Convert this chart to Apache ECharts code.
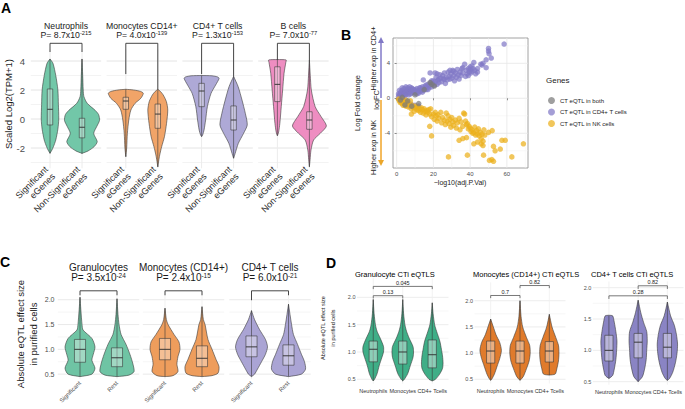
<!DOCTYPE html>
<html><head><meta charset="utf-8">
<script src="https://cdn.jsdelivr.net/npm/echarts@6/dist/echarts.min.js"></script>
<style>html,body{margin:0;padding:0;background:#fff}#c{width:685px;height:409px}</style>
</head><body><div id="c"></div>
<script>
// ---------------- DATA ----------------
// Panel A
const aFacetTitles = ['Neutrophils', 'Monocytes CD14+', 'CD4+ T cells', 'B cells'];
const aPMantissa = ['8.7', '4.0', '1.3', '7.0'];
const aPExponent = ['-215', '-139', '-153', '-77'];
const aCategories = ['Significant\neGenes', 'Non-Significant\neGenes'];
const aYTicks = [-2, 0, 2, 4];
const aGridMajor = [-2, 0, 2, 4];
const aGridMinor = [-3, -1, 1, 3];
// violin outlines: [value, relative half width]
const aViolins = [
  [[[4.14,0],[3.84,0.17],[3.0,0.33],[2.0,0.45],[1.0,0.48],[0.0,0.5],[-0.7,0.45],[-1.45,0.33],[-1.9,0.2],[-2.14,0.11],[-2.37,0]],
   [[4.14,0],[3.0,0.04],[2.0,0.07],[1.54,0.11],[1.08,0.3],[0.6,0.75],[0.3,0.95],[-0.1,1.0],[-0.5,0.85],[-1.0,0.67],[-1.56,0.87],[-1.9,0.7],[-2.2,0.35],[-2.37,0]]],
  [[[2.05,0],[2.0,0.45],[1.9,0.85],[1.77,1.0],[1.43,0.86],[1.08,0.53],[0.62,0.29],[-0.07,0.17],[-0.99,0.09],[-2.0,0.05],[-2.6,0]],
   [[2.05,0],[1.9,0.15],[1.66,0.31],[1.2,0.49],[0.62,0.57],[-0.3,0.5],[-1.22,0.38],[-1.91,0.22],[-2.48,0.11],[-2.9,0.05],[-3.3,0]]],
  [[[3.0,0],[2.98,0.6],[2.9,0.92],[2.8,1.0],[2.34,0.8],[1.77,0.54],[0.85,0.33],[-0.07,0.23],[-0.76,0.14],[-1.1,0.06],[-1.22,0]],
   [[2.94,0],[2.23,0.26],[1.31,0.48],[0.39,0.67],[-0.41,0.78],[-0.99,0.57],[-1.68,0.27],[-2.37,0.09],[-2.71,0]]],
  [[[4.1,0],[4.07,0.5],[3.9,0.48],[3.15,0.38],[2.0,0.3],[0.85,0.22],[-0.3,0.14],[-0.9,0.07],[-1.17,0]],
   [[4.07,0],[3.0,0.05],[2.0,0.11],[0.85,0.33],[0.16,0.67],[-0.48,0.97],[-0.99,0.62],[-1.45,0.24],[-2.14,0.09],[-2.8,0.04],[-3.29,0]]]
];
// boxes: [low, q1, median, q3, high]
const aBoxes = [
  [[-2.37,-0.41,0.67,2.07,4.14], [-2.4,-1.3,-0.57,0.05,4.14]],
  [[-2.6,0.67,1.24,1.5,2.05], [-3.3,-0.64,0.34,1.03,2.05]],
  [[-1.2,0.85,1.93,2.46,3.0], [-2.7,-0.76,-0.07,0.9,2.94]],
  [[-1.1,1.2,2.39,3.6,4.07], [-3.3,-0.71,-0.07,0.5,4.07]]
];
// brackets: [from, to, bar value, left tip end, right tip end]
const aBrackets = [[0,1,5.22,4.62,4.62],[0,1,5.22,3.1,2.05],[0,1,5.22,3.1,2.94],[0,1,5.22,4.07,4.07]];

// Panel B
const bXTicks = [0, 20, 40, 60];
const bYTicks = [-4, 0, 4];
const bXMajor = [0, 20, 40, 60], bXMinor = [10, 30, 50, 70];
const bYMajor = [-4, 0, 4], bYMinor = [-6, -2, 2, 6];
const bSeriesNames = ['CT eQTL in both', 'CT eQTL in CD4+ T cells', 'CT eQTL in NK cells'];
const cd4Points = [[1,0.2],[1.5,0.4],[2,0.6],[2,0.3],[2.5,0.8],[3,0.5],[3,0.9],[3.5,0.3],[4,0.7],[4,1.1],[4.5,0.5],[5,0.8],[5,0.4],[5.5,1.0],[6,0.6],[6,0.9],[6.5,0.4],[7,1.0],[7,0.7],[7.5,0.5],[8,0.9],[8,0.6],[8.5,1.1],[9,0.7],[9.5,0.9],[10,0.6],[10,1.0],[10.5,0.8],[11,1.1],[11.5,0.7],[12,0.9],[12.5,1.2],[13,0.8],[13.5,1.0],[14,1.3],[14.5,0.9],[15,1.1],[15.5,1.4],[16,1.0],[16.5,1.3],[17,1.6],[17.5,1.2],[18,1.5],[18.5,1.8],[19,1.3],[19.5,1.7],[20,2.0],[20.5,1.5],[21,1.9],[21.5,2.4],[22,1.6],[22.5,2.1],[23,1.8],[23.5,2.7],[24,2.3],[24.5,1.9],[25,2.6],[25.5,2.2],[26,2.9],[26.5,1.7],[27,2.4],[27.5,2.1],[28,3.0],[28.5,2.5],[29,2.2],[29.5,2.8],[30,2.3],[30.5,3.2],[31,2.6],[31.5,2.0],[32,2.9],[32.5,2.4],[33,3.3],[33.5,2.7],[34,2.2],[34.5,3.0],[35,2.6],[35.5,3.4],[36,2.9],[37,3.9],[37.5,2.5],[38,3.2],[38.5,2.8],[39,3.4],[39.5,3.0],[40,3.3],[40.5,2.9],[41,3.1],[41.5,3.4],[42,4.1],[42.5,3.2],[43,2.8],[44,3.0],[45.8,3.9],[46.4,3.8],[47,4.0],[48.7,3.5],[48.7,4.4],[50,5.7],[50,5.4],[50.3,5.1],[51.5,4.6],[58.5,6.2],[1,0.5],[1.5,0.9],[2.5,0.2],[3,1.2],[4,0.2],[5,1.3],[6,1.2],[7,1.3],[8,1.2],[9,1.0],[11,0.5],[12,0.6],[13,1.2],[14,0.7],[16,1.5],[17,1.0],[19,2.0],[22,2.8],[23,2.2],[26,2.2],[29,3.2],[31,3.1],[36,3.5],[39,2.6],[40,3.6],[41,3.7],[44,3.4],[18.2,2.9],[20.9,2.9],[14.5,2.1],[3,-0.3],[4,-0.5],[5,-0.8],[6,-0.6],[7,-0.9],[8,-0.7],[9,-1.0],[10,-0.8],[11,-1.1],[12,-0.9]];
const nkPoints = [[1,-0.1],[1.5,-0.3],[2,-0.2],[2,-0.5],[2.5,-0.4],[3,-0.6],[3,-0.1],[3.5,-0.8],[4,-0.3],[4.5,-0.6],[5,-0.9],[5,-0.2],[5.5,-0.5],[6,-0.4],[6.5,-1.0],[7,-0.7],[7.5,-0.3],[8,-1.2],[8.5,-0.8],[9,-1.0],[9.5,-1.5],[10,-1.1],[10.5,-0.9],[11,-1.3],[11.5,-1.0],[12,-1.4],[12.5,-1.2],[13,-1.6],[13.5,-1.1],[14,-1.3],[14.5,-1.7],[15,-1.2],[15.5,-1.5],[16,-1.9],[16.5,-1.4],[17,-1.6],[17.5,-1.3],[18,-1.8],[18.5,-1.2],[8,-1.8],[19,-2.1],[20,-1.8],[20.5,-2.4],[21,-1.6],[21.5,-2.0],[22,-2.6],[22.5,-1.9],[23,-2.3],[24,-1.6],[24.5,-2.8],[25,-2.2],[26,-2.5],[26.5,-3.0],[27,-1.7],[27.5,-2.6],[28,-2.0],[28.5,-2.9],[29,-2.4],[29.5,-3.3],[30,-2.2],[30.5,-2.7],[31,-3.1],[32,-2.5],[32.5,-3.4],[33,-2.8],[34,-2.3],[34.5,-3.6],[35,-2.7],[36,-3.2],[36.5,-1.7],[37,-1.8],[37.5,-2.6],[38,-3.0],[38.5,-2.9],[39,-3.5],[39.5,-3.2],[40,-3.4],[40.5,-3.8],[41,-3.6],[41.5,-4.0],[42,-3.9],[42.5,-3.3],[43,-4.2],[43.5,-3.7],[44,-4.1],[44.5,-3.5],[45,-4.3],[45.5,-3.9],[46,-4.6],[46.5,-4.1],[47,-4.9],[47.5,-3.6],[48,-4.2],[50,-3.9],[52,-3.7],[36,-4.6],[34,-4.8],[38,-4.5],[46,-5.2],[44,-5.0],[47,-5.4],[42,-5.2],[18,-3.2],[19,-4.3],[28.2,-6.7],[38.5,-6.5],[47.3,-6.5],[52.7,-5.5],[51.8,-7.0],[52.7,-7.2],[50.5,-7.1],[56.4,-5.8],[57.3,-4.8],[59.1,-4.8],[62.7,-6.7],[69,-5.2],[53.6,-6.0]];
const bothPoints = [[18.2,1.8],[19.1,1.6],[20.5,1.4],[4.5,-0.76],[8.2,-0.9],[6,-0.3],[3,0.1],[10,0.4],[12,-0.6],[15,1.0],[2,-0.2]];

// Panel C
const cFacetTitles = ['Granulocytes', 'Monocytes (CD14+)', 'CD4+ T cells'];
const cPMantissa = ['3.5', '2.4', '6.0'];
const cPExponent = ['-24', '-15', '-21'];
const cCategories = ['Significant', 'Rest'];
const cYTicks = [0.5, 1.0, 1.5, 2.0];
const cGridMajor = [0.5, 1.0, 1.5, 2.0];
const cGridMinor = [0.75, 1.25, 1.75];
const cViolins = [
  [[[2.05,0],[1.8,0.05],[1.5,0.12],[1.39,0.18],[1.22,0.7],[1.05,0.88],[0.9,0.78],[0.78,0.7],[0.62,0.88],[0.5,0.7],[0.45,0]],
   [[2.02,0],[1.7,0.06],[1.5,0.12],[1.3,0.24],[1.1,0.53],[0.9,0.76],[0.7,0.94],[0.55,1.0],[0.48,0.7],[0.45,0]]],
  [[[1.83,0],[1.6,0.08],[1.5,0.18],[1.3,0.53],[1.15,0.82],[1.0,0.88],[0.85,0.76],[0.7,0.7],[0.55,0.76],[0.47,0.47],[0.45,0]],
   [[1.86,0],[1.6,0.08],[1.5,0.18],[1.2,0.35],[1.0,0.59],[0.8,0.82],[0.65,1.0],[0.52,0.94],[0.47,0.59],[0.45,0]]],
  [[[1.78,0],[1.6,0.18],[1.4,0.47],[1.2,0.82],[1.05,0.94],[0.9,0.82],[0.75,0.59],[0.6,0.35],[0.5,0.18],[0.45,0]],
   [[1.91,0],[1.5,0.18],[1.3,0.29],[1.1,0.53],[0.9,0.76],[0.75,0.94],[0.6,1.0],[0.5,0.76],[0.45,0]]]
];
const cBoxes = [
  [[0.45,0.74,1.0,1.2,2.05], [0.45,0.65,0.83,1.03,2.02]],
  [[0.45,0.79,1.0,1.22,1.83], [0.45,0.65,0.82,1.07,1.86]],
  [[0.45,0.85,1.05,1.27,1.78], [0.45,0.68,0.87,1.09,1.91]]
];
const cBrackets = [[0,1,2.18,2.09,2.09],[0,1,2.18,2.09,2.09],[0,1,2.18,1.99,2.09]];

// Panel D
const dTitles = ['Granulocyte CTi eQTLS', 'Monocytes (CD14+) CTi eQTLS', 'CD4+ T cells CTi eQTLS'];
const dCategories = ['Neutrophils', 'Monocytes', 'CD4+ Tcells'];
const dYTicks = [0.5, 1.0, 1.5, 2.0];
const dGridMajor = [0.5, 1.0, 1.5, 2.0];
const dGridMinor = [0.75, 1.25, 1.75];
const dViolins = [
  [[[1.96,0],[1.7,0.08],[1.5,0.2],[1.38,0.35],[1.25,0.65],[1.1,0.95],[1.0,0.95],[0.9,0.8],[0.75,0.55],[0.6,0.35],[0.5,0.12],[0.47,0]],
   [[1.96,0],[1.7,0.08],[1.5,0.2],[1.38,0.35],[1.25,0.6],[1.1,0.95],[1.0,1.0],[0.9,0.95],[0.75,0.7],[0.6,0.45],[0.5,0.15],[0.47,0]],
   [[1.9,0],[1.7,0.08],[1.5,0.22],[1.38,0.4],[1.2,0.7],[1.05,0.85],[0.93,0.95],[0.8,1.0],[0.7,0.95],[0.6,0.7],[0.5,0.3],[0.47,0]]],
  [[[1.65,0],[1.5,0.25],[1.35,0.5],[1.2,0.85],[1.05,1.0],[0.9,0.85],[0.75,0.6],[0.6,0.35],[0.5,0.1],[0.48,0]],
   [[2.0,0],[1.7,0.1],[1.5,0.25],[1.3,0.6],[1.15,0.9],[1.0,0.95],[0.85,0.85],[0.7,0.6],[0.55,0.3],[0.48,0]],
   [[1.74,0],[1.5,0.25],[1.3,0.6],[1.15,0.85],[1.0,0.9],[0.85,0.85],[0.7,0.7],[0.6,0.55],[0.58,0]]],
  [[[1.56,0],[1.55,0.35],[1.45,0.5],[1.3,0.65],[1.15,0.75],[1.0,0.72],[0.85,0.65],[0.7,0.5],[0.6,0.35],[0.55,0]],
   [[1.8,0],[1.6,0.25],[1.45,0.5],[1.3,0.8],[1.15,0.85],[1.0,0.8],[0.85,0.75],[0.7,0.6],[0.58,0.4],[0.5,0]],
   [[1.77,0],[1.55,0.3],[1.4,0.65],[1.25,0.85],[1.1,0.95],[0.95,0.9],[0.8,0.75],[0.65,0.5],[0.55,0.2],[0.52,0]]]
];
const dBoxes = [
  [[0.47,0.82,1.05,1.2,1.96], [0.47,0.78,1.0,1.2,1.96], [0.47,0.71,0.95,1.22,1.9]],
  [[0.48,0.81,1.04,1.23,1.65], [0.48,0.81,1.04,1.23,2.0], [0.58,0.83,1.04,1.22,1.74]],
  [[0.55,0.83,1.0,1.24,1.55], [0.5,0.88,1.13,1.27,1.8], [0.52,0.88,1.05,1.27,1.77]]
];
const dBrackets = [
  [[0,2,2.2,2.15,2.15,'0.045'], [0,1,2.03,1.98,1.98,'0.13']],
  [[0,1,2.1,2.05,2.05,'0.7'], [1,2,2.29,2.24,2.24,'0.82']],
  [[1,2,2.03,1.98,1.98,'0.82'], [0,2,1.87,1.82,1.82,'0.28']]
];

// ---------------- STYLE / LAYOUT ----------------
const FONT = "'Liberation Sans', Arial, Helvetica, sans-serif";
const aColors = ['#72c7a8', '#f1a468', '#aea9d6', '#ee8dc1'];
const cColors = ['#6fc4a4', '#ee9d5c', '#aaa4d4'];
const dColors = ['#3fae87', '#e07b2c', '#8a84c4'];
const OUT = '#3a3a3a';

const grids = [], xAxes = [], yAxes = [], series = [], graphics = [];

function addGrid(grid, xAxis, yAxis) {
  const gi = grids.length;
  grids.push(Object.assign({containLabel: false}, grid));
  xAxes.push(Object.assign({gridIndex: gi}, xAxis));
  yAxes.push(Object.assign({gridIndex: gi}, yAxis));
  return gi;
}
function hLines(gi, vals, color, w, ext) {
  return {type: 'custom', xAxisIndex: gi, yAxisIndex: gi, z: 0, silent: true, clip: false,
    data: vals.map(v => [0, v]), encode: {x: 0, y: 1},
    renderItem(params, api) {
      const cs = params.coordSys;
      const y = api.coord([api.value(0), api.value(1)])[1];
      return {type: 'line', shape: {x1: cs.x - ext, y1: y, x2: cs.x + cs.width + ext, y2: y}, style: {stroke: color, lineWidth: w}};
    }};
}
function vLines(gi, vals, yv, color, w) {
  return {type: 'custom', xAxisIndex: gi, yAxisIndex: gi, z: 0, silent: true, clip: false,
    data: vals.map(v => [v, yv]), encode: {x: 0, y: 1},
    renderItem(params, api) {
      const cs = params.coordSys;
      const x = api.coord([api.value(0), api.value(1)])[0];
      return {type: 'line', shape: {x1: x, y1: cs.y, x2: x, y2: cs.y + cs.height}, style: {stroke: color, lineWidth: w}};
    }};
}
function violinSeries(gi, shapes, boxes, color, kW, kB, boxFill) {
  return {type: 'custom', xAxisIndex: gi, yAxisIndex: gi, z: 3, silent: true, clip: false,
    data: boxes.map((b, i) => [i, b[2]]), encode: {x: 0, y: 1},
    renderItem(params, api) {
      const i = params.dataIndex, shp = shapes[i], b = boxes[i];
      const cx = api.coord([i, b[2]])[0];
      const band = api.size([1, 0])[0];
      const hw = kW * band, bw = kB * band;
      const Y = v => api.coord([i, v])[1];
      const right = shp.map(p => [cx + p[1] * hw, Y(p[0])]);
      const left = shp.slice().reverse().map(p => [cx - p[1] * hw, Y(p[0])]);
      return {type: 'group', children: [
        {type: 'polygon', shape: {points: right.concat(left), smooth: 0.25}, style: {fill: color, stroke: OUT, lineWidth: 0.6}},
        {type: 'line', shape: {x1: cx, y1: Y(b[0]), x2: cx, y2: Y(b[4])}, style: {stroke: OUT, lineWidth: 0.6}},
        {type: 'rect', shape: {x: cx - bw, y: Y(b[3]), width: 2 * bw, height: Y(b[1]) - Y(b[3])}, style: {fill: boxFill, stroke: OUT, lineWidth: 0.6}},
        {type: 'line', shape: {x1: cx - bw, y1: Y(b[2]), x2: cx + bw, y2: Y(b[2])}, style: {stroke: '#2a2a2a', lineWidth: 0.9}}
      ]};
    }};
}
function bracketSeries(gi, items, color, lw, fs) {
  return {type: 'custom', xAxisIndex: gi, yAxisIndex: gi, z: 4, silent: true, clip: false,
    data: items.map(b => [b[0], b[2]]), encode: {x: 0, y: 1},
    renderItem(params, api) {
      const b = items[params.dataIndex];
      const p1 = api.coord([b[0], b[2]]), p2 = api.coord([b[1], b[2]]);
      const yl = api.coord([b[0], b[3]])[1], yr = api.coord([b[1], b[4]])[1];
      const ch = [{type: 'polyline', shape: {points: [[p1[0], yl], [p1[0], p1[1]], [p2[0], p2[1]], [p2[0], yr]]}, style: {stroke: color, lineWidth: lw, fill: null}}];
      if (b[5]) ch.push({type: 'text', x: (p1[0] + p2[0]) / 2, y: p1[1] - 0.5, style: {text: b[5], fontSize: fs, fontFamily: FONT, fill: '#222', align: 'center', verticalAlign: 'bottom'}});
      return {type: 'group', children: ch};
    }};
}
function txt(x, y, text, o) {
  graphics.push(Object.assign({type: 'text', x: x, y: y, silent: true,
    style: Object.assign({text: text, fontFamily: FONT, fill: '#1a1a1a', align: 'center', verticalAlign: 'middle'}, o.style || {})},
    o.el || {}));
}
function supTxt(x, y, mant, exp, fs, fss) {
  graphics.push({type: 'text', x: x, y: y, silent: true, style: {
    text: '{n|P= ' + mant + 'x10}{s|' + exp + '}', align: 'center', verticalAlign: 'middle', fill: '#1a1a1a',
    rich: {n: {fontSize: fs, fontFamily: FONT, fill: '#1a1a1a', verticalAlign: 'bottom', lineHeight: fs + 1},
           s: {fontSize: fss, fontFamily: FONT, fill: '#1a1a1a', verticalAlign: 'top', lineHeight: fs + 1}}}});
}
const hiddenY = {type: 'value', axisLine: {show: false}, axisTick: {show: false}, splitLine: {show: false}, axisLabel: {show: false}};

// ---------------- PANEL A ----------------
for (let i = 0; i < 4; i++) {
  const left = 34 + 75.8 * i;
  const gi = addGrid({left: left, top: 49.4, width: 64, height: 118.9},
    {type: 'category', data: aCategories, axisLine: {show: false}, axisTick: {show: false}, splitLine: {show: false},
     axisLabel: {interval: 0, rotate: 45, fontSize: 9, lineHeight: 10, color: '#2a2a2a', fontFamily: FONT, margin: 3}},
    Object.assign({}, hiddenY, {min: -3.4, max: 4.8,
     axisLabel: {show: i === 0, customValues: aYTicks, fontSize: 9.5, color: '#4d4d4d', fontFamily: FONT, margin: 9}}));
  series.push(hLines(gi, aGridMinor, '#eeeeee', 0.7, 3.2));
  series.push(hLines(gi, aGridMajor, '#e4e4e4', 1, 3.2));
  series.push(vLines(gi, [0, 1], 0, '#ececec', 1));
  series.push(violinSeries(gi, aViolins[i], aBoxes[i], aColors[i], 0.547, 0.085, 'rgba(255,255,255,0.35)'));
  series.push(bracketSeries(gi, [aBrackets[i]], '#333', 0.9, 8));
  txt(left + 32, 25.5, aFacetTitles[i], {style: {fontSize: 8.7}});
  supTxt(left + 32, 35, aPMantissa[i], aPExponent[i], 8.7, 5.8);
}
txt(8, 104, 'Scaled Log2(TPM+1)', {style: {fontSize: 9.5}, el: {rotation: Math.PI / 2}});

// ---------------- PANEL B ----------------
const gB = addGrid({left: 393, top: 38, width: 135, height: 130, show: true, borderColor: '#8a8a8a', borderWidth: 0.8, backgroundColor: '#fff'},
  {type: 'value', min: -2, max: 71.5, axisLine: {show: false}, splitLine: {show: false},
   axisTick: {show: true, customValues: bXTicks, length: 2, lineStyle: {color: '#444', width: 0.6}},
   axisLabel: {customValues: bXTicks, fontSize: 6, color: '#4d4d4d', fontFamily: FONT, margin: 3}},
  {type: 'value', min: -7.97, max: 6.89, axisLine: {show: false}, splitLine: {show: false},
   axisTick: {show: true, customValues: bYTicks, length: 2, lineStyle: {color: '#444', width: 0.6}},
   axisLabel: {customValues: bYTicks, fontSize: 6, color: '#4d4d4d', fontFamily: FONT, margin: 3}});
series.push(hLines(gB, bYMinor, '#f3f3f3', 0.5, 0));
series.push(hLines(gB, bYMajor, '#e6e6e6', 0.8, 0));
series.push(vLines(gB, bXMinor, 0, '#f3f3f3', 0.5));
series.push(vLines(gB, bXMajor, 0, '#e6e6e6', 0.8));
const bColors = ['#7a7a7a', '#8179c6', '#ebb01c'];
[cd4Points, nkPoints, bothPoints].forEach((pts, k) => {
  const idx = [1, 2, 0][k];
  series.push({type: 'scatter', name: bSeriesNames[idx], xAxisIndex: gB, yAxisIndex: gB, z: 5 + k, silent: true,
    data: pts, symbolSize: 5.5, itemStyle: {color: bColors[idx], opacity: 0.72}});
});
txt(460, 182, '\u2212log10(adj.P.Val)', {style: {fontSize: 7}});
txt(357, 103, 'Log Fold change', {style: {fontSize: 7.5}, el: {rotation: Math.PI / 2}});
txt(373.5, 58.5, 'Higher exp in CD4+', {style: {fontSize: 7.3}, el: {rotation: Math.PI / 2}});
txt(376, 100, 'logFC', {style: {fontSize: 7.3}, el: {rotation: Math.PI / 2}});
txt(373.5, 147.5, 'Higher exp in NK', {style: {fontSize: 7.3}, el: {rotation: Math.PI / 2}});
graphics.push({type: 'line', silent: true, shape: {x1: 381, y1: 42, x2: 381, y2: 98}, style: {stroke: '#a19bd6', lineWidth: 2}});
graphics.push({type: 'polygon', silent: true, shape: {points: [[378, 43], [384, 43], [381, 37]]}, style: {fill: '#8179c6'}});
graphics.push({type: 'line', silent: true, shape: {x1: 381, y1: 100, x2: 381, y2: 161}, style: {stroke: '#f4bb5e', lineWidth: 2}});
graphics.push({type: 'polygon', silent: true, shape: {points: [[378, 160], [384, 160], [381, 166]]}, style: {fill: '#eba62a'}});
txt(546, 80, 'Genes', {style: {fontSize: 8, align: 'left'}});

// ---------------- PANEL C ----------------
const cLefts = [61.5, 146.5, 233];
for (let i = 0; i < 3; i++) {
  const gi = addGrid({left: cLefts[i], top: 292.3, width: 74, height: 86.8},
    {type: 'category', data: cCategories, axisLine: {show: false}, axisTick: {show: false}, splitLine: {show: false},
     axisLabel: {interval: 0, rotate: 45, fontSize: 6, color: '#555', fontFamily: FONT, margin: 3}},
    Object.assign({}, hiddenY, {min: 0.4, max: 2.15,
     axisLabel: {show: i === 0, customValues: cYTicks, formatter: v => v.toFixed(1), fontSize: 7, color: '#4d4d4d', fontFamily: FONT, margin: 7}}));
  series.push(hLines(gi, cGridMinor, '#f0f0f0', 0.6, 3.7));
  series.push(hLines(gi, cGridMajor, '#e6e6e6', 0.9, 3.7));
  series.push(vLines(gi, [0, 1], 1, '#efefef', 0.9));
  series.push(violinSeries(gi, cViolins[i], cBoxes[i], cColors[i], 0.46, 0.15, 'rgba(255,255,255,0.35)'));
  series.push(bracketSeries(gi, [cBrackets[i]], '#333', 0.9, 8));
  txt(cLefts[i] + 37, 267, cFacetTitles[i], {style: {fontSize: 10}});
  supTxt(cLefts[i] + 37, 277, cPMantissa[i], cPExponent[i], 10, 6.5);
}
txt(20, 334, 'Absolute eQTL effect size', {style: {fontSize: 9.5}, el: {rotation: Math.PI / 2}});
txt(33, 334, 'in purified cells', {style: {fontSize: 9.5}, el: {rotation: Math.PI / 2}});

// ---------------- PANEL D ----------------
const dGrids = [
  {left: 358.5, top: 278.2, width: 88.5, height: 105.5, min: 0.42, max: 2.35},
  {left: 476, top: 282.4, width: 88, height: 101.1, min: 0.42, max: 2.35},
  {left: 594.3, top: 281.4, width: 88.5, height: 103.4, min: 0.45, max: 2.1}
];
const dTitleX = [355, 473, 591];
for (let i = 0; i < 3; i++) {
  const g = dGrids[i];
  const gi = addGrid({left: g.left, top: g.top, width: g.width, height: g.height},
    {type: 'category', data: dCategories, axisLine: {show: false}, axisTick: {show: false}, splitLine: {show: false},
     axisLabel: {interval: 0, fontSize: 5.5, color: '#333', fontFamily: FONT, margin: 4}},
    Object.assign({}, hiddenY, {min: g.min, max: g.max,
     axisLabel: {show: true, customValues: dYTicks, formatter: v => v.toFixed(1), fontSize: 5.5, color: '#4d4d4d', fontFamily: FONT, margin: 3}}));
  series.push(hLines(gi, dGridMinor, '#f2f2f2', 0.6, 1.5));
  series.push(hLines(gi, dGridMajor, '#e8e8e8', 0.8, 1.5));
  series.push(vLines(gi, [0, 1, 2], 1, '#efefef', 0.8));
  series.push(violinSeries(gi, dViolins[i], dBoxes[i], dColors[i], 0.366, 0.14, 'rgba(255,255,255,0.4)'));
  series.push(bracketSeries(gi, dBrackets[i], '#555', 0.8, 5.5));
  txt(dTitleX[i], 274, dTitles[i], {style: {fontSize: 7.5, align: 'left', fill: '#000'}});
}
txt(323, 328, 'Absolute eQTL effect size', {style: {fontSize: 5.6}, el: {rotation: Math.PI / 2}});
txt(332.5, 328, 'in purified cells', {style: {fontSize: 5.6}, el: {rotation: Math.PI / 2}});

// panel letters
txt(6, 8, 'A', {style: {fontSize: 14, fontWeight: 'bold', fill: '#000'}});
txt(346, 35, 'B', {style: {fontSize: 14, fontWeight: 'bold', fill: '#000'}});
txt(5, 262, 'C', {style: {fontSize: 14, fontWeight: 'bold', fill: '#000'}});
txt(331, 263, 'D', {style: {fontSize: 14, fontWeight: 'bold', fill: '#000'}});

const chart = echarts.init(document.getElementById('c'), null, {renderer: 'svg'});
chart.setOption({
  animation: false,
  backgroundColor: '#fff',
  grid: grids, xAxis: xAxes, yAxis: yAxes, series: series,
  legend: {data: bSeriesNames, left: 543, top: 92, orient: 'vertical', icon: 'circle', itemWidth: 7, itemHeight: 7, itemGap: 4.5,
    selectedMode: false, textStyle: {fontSize: 6, color: '#1a1a1a', fontFamily: FONT}},
  graphic: graphics
});
</script></body></html>
